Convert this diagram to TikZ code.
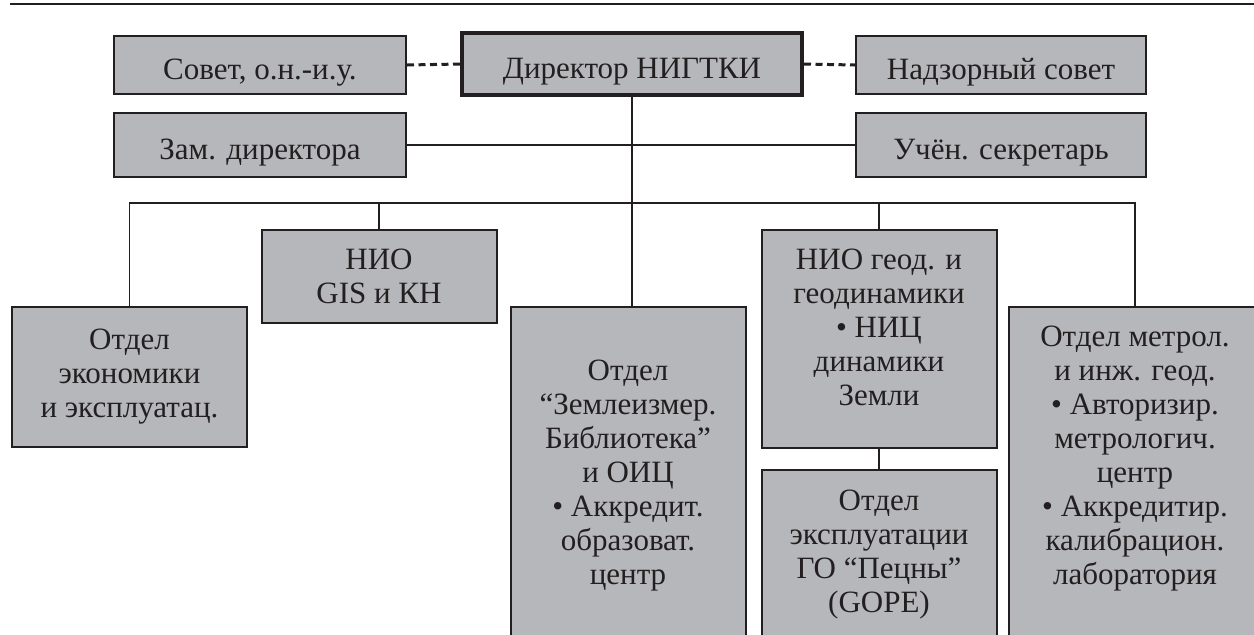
\documentclass[tikz,border=0pt]{standalone}
\usepackage{fontspec}
\setmainfont{Liberation Serif}

\definecolor{boxgray}{RGB}{182,183,186}
\definecolor{ink}{RGB}{35,31,32}

\tikzset{
  unit/.style={draw=ink, fill=boxgray, line width=1pt, text=ink, align=center,
    inner sep=0pt, font=\fontsize{15.5pt}{17pt}\selectfont},
  head/.style={unit, line width=2pt},
  oneline/.style={text height=20pt, text depth=6pt},
  tall/.style={unit, anchor=north, text depth=40pt},
  link/.style={draw=ink, line width=0.9pt},
  advice/.style={link, line width=1.5pt, dash pattern=on 3.5pt off 2.25pt}
}

\begin{document}
\begin{tikzpicture}[x=0.5pt, y=-0.5pt]
\useasboundingbox (0,0) rectangle (1254,634);
\clip (0,0) rectangle (1254,634);

% rule of the page
\draw[ink, line width=1.2pt] (10,4) -- (1254,4);

% management
\node[head, oneline, minimum width=170pt, minimum height=31pt] (dir) at (632,64) {Директор НИГТКИ};
\node[unit, oneline, minimum width=146pt, minimum height=29pt] (sovet) at (260,65) {Совет, о.н.-и.у.};
\node[unit, oneline, minimum width=145pt, minimum height=29pt] (nadzor) at (1001,65) {Надзорный совет};
\node[unit, oneline, minimum width=146pt, minimum height=32pt] (zam) at (260,145) {Зам. директора};
\node[unit, oneline, minimum width=145pt, minimum height=32pt] (uchen) at (1001,145) {Учён. секретарь};

% departments
\node[unit, minimum width=117.5pt, minimum height=70pt] (ekon) at (129.5,376.5)
  {Отдел\\экономики\\и эксплуатац.};
\node[unit, minimum width=117.5pt, minimum height=46.5pt] (gis) at (379,276)
  {НИО\\GIS и КН};
\node[tall, minimum width=117.5pt, inner ysep=26.5pt] (zeml) at (628,306)
  {Отдел\\“Землеизмер.\\Библиотека”\\и ОИЦ\\• Аккредит.\\образоват.\\центр};
\node[unit, minimum width=117.5pt, minimum height=109pt, text depth=11pt] (geod) at (879,338.5)
  {НИО геод. и\\геодинамики\\• НИЦ\\динамики\\Земли};
\node[tall, minimum width=117.5pt, inner ysep=10pt] (expl) at (879,469)
  {Отдел\\эксплуатации\\ГО “Пецны”\\(GOPE)};
\node[tall, minimum width=126pt, inner ysep=9.5pt] (metr) at (1135,306)
  {Отдел метрол.\\и инж. геод.\\• Авторизир.\\метрологич.\\центр\\• Аккредитир.\\калибрацион.\\лаборатория};

% connectors
\coordinate (bus) at (632,203);
\draw[advice] (sovet.east) -- (dir.west);
\draw[advice] (dir.east) -- (nadzor.west);
\draw[link] (dir.south) -- (dir.south |- zeml.north);
\draw[link] (zam.east) -- (uchen.west);
\draw[link] (ekon.north) -- (ekon.north |- bus) -- (metr.north |- bus) -- (metr.north);
\draw[link] (gis.north) -- (gis.north |- bus);
\draw[link] (geod.north) -- (geod.north |- bus);
\draw[link] (geod.south) -- (expl.north);
\end{tikzpicture}
\end{document}
